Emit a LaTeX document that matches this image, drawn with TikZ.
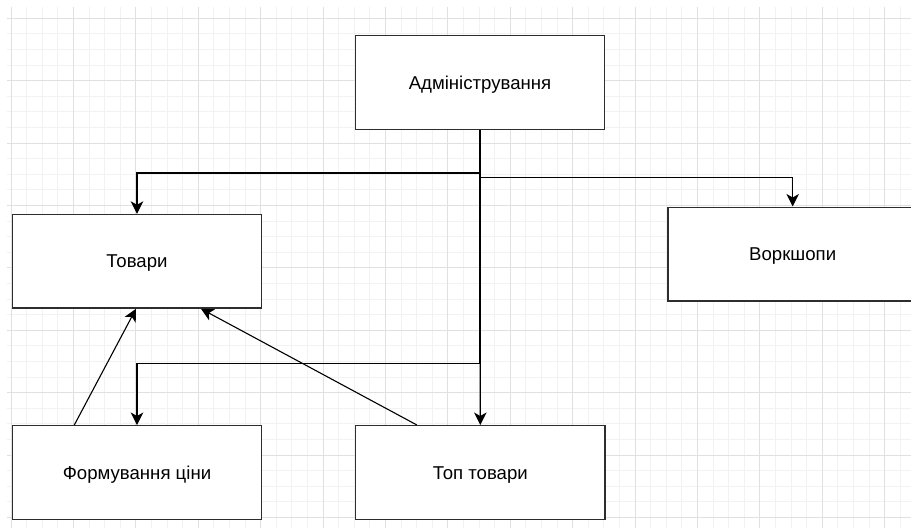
\documentclass[tikz,border=0pt]{standalone}
\usepackage{fontspec}
\setmainfont{Liberation Sans}
\usetikzlibrary{arrows.meta,calc}
\definecolor{gridminor}{RGB}{242,242,242}
\definecolor{gridmajor}{RGB}{224,224,224}
\definecolor{boxline}{RGB}{45,45,45}
\tikzset{
  blockbox/.style={draw=boxline, line width=1.4pt, fill=white, rectangle,
    minimum width=249.4pt, minimum height=93.6pt, inner sep=0pt,
    text height=13.2pt, text depth=0pt,
    font=\fontsize{18.6pt}{22pt}\selectfont},
  conn/.style={draw=black, line width=1.1pt},
  arr/.style={conn, -{Stealth[length=12.5pt,width=12.5pt,inset=3.5pt]}}
}
\begin{document}
\begin{tikzpicture}[x=1pt,y=-1pt]
\useasboundingbox (0,0) rectangle (911,528);
\clip (0,0) rectangle (911,528);
\fill[white] (0,0) rectangle (911,528);
% grid
\foreach \i in {0,...,57} {
  \pgfmathsetmacro{\xx}{11+15.6*\i}
  \draw[gridminor, line width=1pt] (\xx,7) -- (\xx,528);
}
\foreach \i in {0,...,33} {
  \pgfmathsetmacro{\yy}{18.3+15.6*\i}
  \draw[gridminor, line width=1pt] (7,\yy) -- (911,\yy);
}
\foreach \i in {0,...,14} {
  \pgfmathsetmacro{\xx}{11+62.4*\i}
  \draw[gridmajor, line width=1pt] (\xx,7) -- (\xx,528);
}
\foreach \i in {0,...,8} {
  \pgfmathsetmacro{\yy}{18.3+62.4*\i}
  \draw[gridmajor, line width=1pt] (7,\yy) -- (911,\yy);
}
% nodes
\node[blockbox] (admin) at (480,82.5) {Адміністрування};
\node[blockbox] (tovary) at (137,261.3) {Товари};
\node[blockbox] (work) at (792.7,254) {Воркшопи};
\node[blockbox] (form) at (137,472.5) {Формування ціни};
\node[blockbox] (top) at (480.3,472.5) {Топ товари};
% connectors
\draw[arr] (admin.south) -- ++(0,43) -| (tovary.north);
\draw[arr] (admin.south) -- ++(0,47.7) -| (work.north);
\draw[arr] (admin.south) -- (top.north);
\draw[arr] (admin.south) -- ++(0,233.7) -| (form.north);
\draw[arr] ($(form.north west)+(62.7,0)$) -- ($(tovary.south)+(-1,0)$);
\draw[arr] ($(top.north west)+(62,0)$) -- ($(tovary.south)+(64,0)$);
\end{tikzpicture}
\end{document}
